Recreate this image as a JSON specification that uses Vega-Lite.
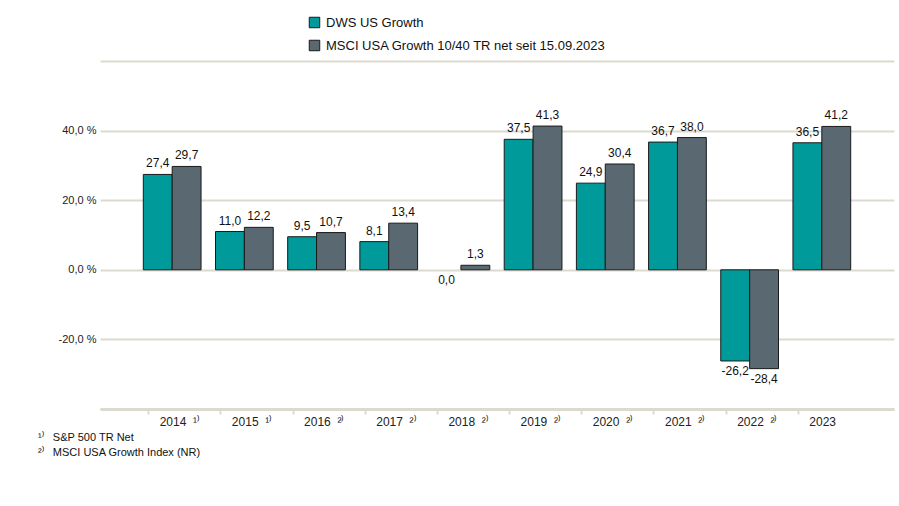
{
  "$schema": "https://vega.github.io/schema/vega-lite/v6.json",
  "width": 794,
  "height": 348,
  "autosize": {"type": "none"},
  "padding": {"left": 100, "top": 61, "right": 5, "bottom": 97},
  "background": "white",
  "config": {
    "font": "Liberation Sans",
    "view": {"stroke": null},
    "locale": {"number": {"decimal": ",", "thousands": ".", "grouping": [3], "currency": ["", " €"], "minus": "-"}},
    "axis": {"labelFont": "Liberation Sans", "labelColor": "#222222"}
  },
  "title": {
    "text": ["¹⁾\u00a0\u00a0\u00a0S&P 500 TR Net", "²⁾\u00a0\u00a0\u00a0MSCI USA Growth Index (NR)"],
    "orient": "bottom",
    "anchor": "start",
    "frame": "group",
    "dx": -62,
    "offset": 5,
    "fontSize": 11,
    "fontWeight": "normal",
    "font": "Liberation Sans",
    "color": "#111111",
    "lineHeight": 15
  },
  "data": {
    "values": [
      {"year": "2014", "series": "DWS US Growth", "value": 27.4},
      {"year": "2014", "series": "MSCI USA Growth 10/40 TR net seit 15.09.2023", "value": 29.7},
      {"year": "2015", "series": "DWS US Growth", "value": 11.0},
      {"year": "2015", "series": "MSCI USA Growth 10/40 TR net seit 15.09.2023", "value": 12.2},
      {"year": "2016", "series": "DWS US Growth", "value": 9.5},
      {"year": "2016", "series": "MSCI USA Growth 10/40 TR net seit 15.09.2023", "value": 10.7},
      {"year": "2017", "series": "DWS US Growth", "value": 8.1},
      {"year": "2017", "series": "MSCI USA Growth 10/40 TR net seit 15.09.2023", "value": 13.4},
      {"year": "2018", "series": "DWS US Growth", "value": 0.0},
      {"year": "2018", "series": "MSCI USA Growth 10/40 TR net seit 15.09.2023", "value": 1.3},
      {"year": "2019", "series": "DWS US Growth", "value": 37.5},
      {"year": "2019", "series": "MSCI USA Growth 10/40 TR net seit 15.09.2023", "value": 41.3},
      {"year": "2020", "series": "DWS US Growth", "value": 24.9},
      {"year": "2020", "series": "MSCI USA Growth 10/40 TR net seit 15.09.2023", "value": 30.4},
      {"year": "2021", "series": "DWS US Growth", "value": 36.7},
      {"year": "2021", "series": "MSCI USA Growth 10/40 TR net seit 15.09.2023", "value": 38.0},
      {"year": "2022", "series": "DWS US Growth", "value": -26.2},
      {"year": "2022", "series": "MSCI USA Growth 10/40 TR net seit 15.09.2023", "value": -28.4},
      {"year": "2023", "series": "DWS US Growth", "value": 36.5},
      {"year": "2023", "series": "MSCI USA Growth 10/40 TR net seit 15.09.2023", "value": 41.2}
    ]
  },
  "encoding": {
    "x": {
      "field": "year",
      "type": "nominal",
      "scale": {"paddingInner": 0.2, "paddingOuter": 0.6},
      "axis": {
        "title": null,
        "labelAngle": 0,
        "labelFontSize": 12,
        "labelAlign": "left",
        "labelOffset": 11,
        "labelPadding": 2,
        "labelExpr": "datum.value + (datum.value == '2014' || datum.value == '2015' ? '\u00a0\u00a0¹⁾' : (datum.value == '2023' ? '' : '\u00a0\u00a0²⁾'))",
        "domainColor": "#dcd9d0",
        "domainWidth": 3,
        "tickColor": "#dcd9d0",
        "tickWidth": 2,
        "tickSize": 5,
        "tickOffset": -24,
        "grid": false
      }
    },
    "xOffset": {
      "field": "series",
      "type": "nominal",
      "sort": ["DWS US Growth", "MSCI USA Growth 10/40 TR net seit 15.09.2023"],
      "scale": {"paddingInner": 0, "paddingOuter": 0}
    },
    "y": {
      "field": "value",
      "type": "quantitative",
      "scale": {"domain": [-40, 60], "nice": false, "zero": false},
      "axis": {
        "title": null,
        "values": [-40, -20, 0, 20, 40, 60],
        "labelExpr": "(datum.value == 60 || datum.value == -40) ? '' : format(datum.value, '.1f') + ' %'",
        "labelFontSize": 11,
        "labelPadding": 4,
        "domain": false,
        "ticks": false,
        "gridColor": "#dcd9d0",
        "gridWidth": 2
      }
    }
  },
  "layer": [
    {
      "transform": [{"filter": "datum.value != 0"}],
      "mark": {"type": "bar", "stroke": "#1a1a1a", "strokeWidth": 1},
      "encoding": {
        "color": {
          "field": "series",
          "type": "nominal",
          "sort": ["DWS US Growth", "MSCI USA Growth 10/40 TR net seit 15.09.2023"],
          "scale": {"range": ["#009a9b", "#5a6872"]},
          "legend": {
            "title": null,
            "orient": "none",
            "legendX": 208,
            "legendY": -45,
            "direction": "vertical",
            "labelFont": "Liberation Sans",
            "labelFontSize": 13,
            "labelColor": "#111111",
            "labelLimit": 0,
            "symbolType": "square",
            "symbolSize": 110,
            "symbolStrokeColor": "#1a1a1a",
            "symbolStrokeWidth": 1,
            "symbolOpacity": 1,
            "rowPadding": 8,
            "labelOffset": 5
          }
        }
      }
    },
    {
      "transform": [{"filter": "datum.value > 0"}],
      "mark": {"type": "text", "baseline": "bottom", "dy": -4, "fontSize": 12, "font": "Liberation Sans", "color": "#111111"},
      "encoding": {"text": {"field": "value", "type": "quantitative", "format": ".1f", "formatType": "number"}}
    },
    {
      "transform": [{"filter": "datum.value <= 0"}],
      "mark": {"type": "text", "baseline": "top", "dy": 5, "fontSize": 12, "font": "Liberation Sans", "color": "#111111"},
      "encoding": {"text": {"field": "value", "type": "quantitative", "format": ".1f", "formatType": "number"}}
    }
  ]
}
